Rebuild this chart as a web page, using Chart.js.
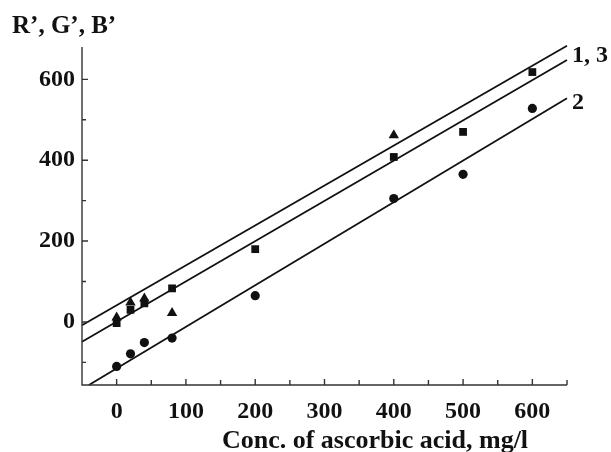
<!DOCTYPE html>
<html lang="en">
<head>
    <meta charset="UTF-8">
    <title>Ascorbic acid calibration</title>
    <script src="https://cdn.jsdelivr.net/npm/chart.js"></script>
    <style>
        body { margin: 0; background: #fff; }
        #wrap { width: 611px; height: 452px; }
    </style>
</head>
<body>
    <div id="wrap"><canvas id="calibChart" width="611" height="452"></canvas></div>
    <script>
        // values
        const triX = [0, 20, 40, 80, 400];
        const triY = [11, 48, 58, 22, 462];
        const sqX = [0, 20, 40, 80, 200, 400, 500, 600];
        const sqY = [-3, 30, 46, 83, 180, 408, 470, 618];
        const circX = [0, 20, 40, 80, 200, 400, 500, 600];
        const circY = [-110, -79, -51, -40, 65, 305, 365, 528];

        // end points of the fitted lines
        const line1X = [-50, 650], line1Y = [-8, 683];
        const line3X = [-50, 650], line3Y = [-49, 648];
        const line2X = [-40, 650], line2Y = [-156, 553];

        const xTicks = [0, 100, 200, 300, 400, 500, 600];
        const xMinor = [50, 150, 250, 350, 450, 550, 650];
        const yTicks = [0, 200, 400, 600];
        const yMinor = [-100, 100, 300, 500];

        const pts = (xs, ys) => xs.map((x, i) => ({ x: x, y: ys[i] }));
        const serif = 'Liberation Serif, Times New Roman, serif';

        const lineSet = (xs, ys) => ({
            type: 'line', data: pts(xs, ys), borderColor: '#111', borderWidth: 1.8,
            pointRadius: 0, fill: false, clip: false
        });

        const axesPlugin = {
            id: 'axes',
            afterDraw(chart) {
                const ctx = chart.ctx, xs = chart.scales.x, ys = chart.scales.y;
                const a = chart.chartArea;
                ctx.save();
                ctx.strokeStyle = '#333';
                ctx.lineWidth = 1.4;
                ctx.beginPath();
                ctx.moveTo(a.left, a.top); ctx.lineTo(a.left, a.bottom); ctx.lineTo(a.right, a.bottom);
                yTicks.forEach(v => { const p = ys.getPixelForValue(v); ctx.moveTo(a.left, p); ctx.lineTo(a.left + 6, p); });
                yMinor.forEach(v => { const p = ys.getPixelForValue(v); ctx.moveTo(a.left, p); ctx.lineTo(a.left + 4, p); });
                xTicks.forEach(v => { const p = xs.getPixelForValue(v); ctx.moveTo(p, a.bottom); ctx.lineTo(p, a.bottom - 6); });
                xMinor.forEach(v => { const p = xs.getPixelForValue(v); ctx.moveTo(p, a.bottom); ctx.lineTo(p, a.bottom - 5); });
                ctx.stroke();

                ctx.fillStyle = '#111';
                ctx.textBaseline = 'middle';
                ctx.textAlign = 'left';
                ctx.font = 'bold 25px ' + serif;
                ctx.fillText('R\u2019, G\u2019, B\u2019', 12, 27);

                ctx.font = 'bold 24px ' + serif;
                const ex = xs.getPixelForValue(line3X[1]) + 5;
                const y13 = (ys.getPixelForValue(line1Y[1]) + ys.getPixelForValue(line3Y[1])) / 2 + 3;
                ctx.fillText('1, 3', ex, y13);
                ctx.fillText('2', ex, ys.getPixelForValue(line2Y[1]) + 4);

                ctx.textAlign = 'center';
                ctx.font = 'bold 26px ' + serif;
                ctx.fillText('Conc. of ascorbic acid, mg/l', 375, 441);
                ctx.restore();
            }
        };

        new Chart(document.getElementById('calibChart'), {
            type: 'scatter',
            data: {
                datasets: [
                    { data: pts(triX, triY), pointStyle: 'triangle', pointRadius: 6, backgroundColor: '#111', borderColor: '#111', borderWidth: 0 },
                    { data: pts(sqX, sqY), pointStyle: 'rect', pointRadius: 5.5, backgroundColor: '#111', borderColor: '#111', borderWidth: 0 },
                    { data: pts(circX, circY), pointStyle: 'circle', pointRadius: 4.6, backgroundColor: '#111', borderColor: '#111', borderWidth: 0 },
                    lineSet(line1X, line1Y),
                    lineSet(line3X, line3Y),
                    lineSet(line2X, line2Y)
                ]
            },
            options: {
                responsive: false,
                animation: false,
                layout: { padding: { top: 47, right: 44, left: 0, bottom: 0 } },
                plugins: { legend: { display: false }, tooltip: { enabled: false }, title: { display: false } },
                scales: {
                    x: {
                        type: 'linear', min: -50, max: 650,
                        border: { display: false },
                        grid: { display: false, drawTicks: false },
                        afterBuildTicks: s => { s.ticks = xTicks.map(v => ({ value: v })); },
                        afterFit: s => { s.height = 67; },
                        ticks: { color: '#111', padding: 12, font: { family: serif, size: 24, weight: 'bold' } }
                    },
                    y: {
                        type: 'linear', min: -156, max: 680,
                        border: { display: false },
                        grid: { display: false, drawTicks: false },
                        afterBuildTicks: s => { s.ticks = yTicks.map(v => ({ value: v })); },
                        afterFit: s => { s.width = 82; },
                        ticks: { color: '#111', padding: 7, font: { family: serif, size: 24, weight: 'bold' } }
                    }
                }
            },
            plugins: [axesPlugin]
        });
    </script>
</body>
</html>
